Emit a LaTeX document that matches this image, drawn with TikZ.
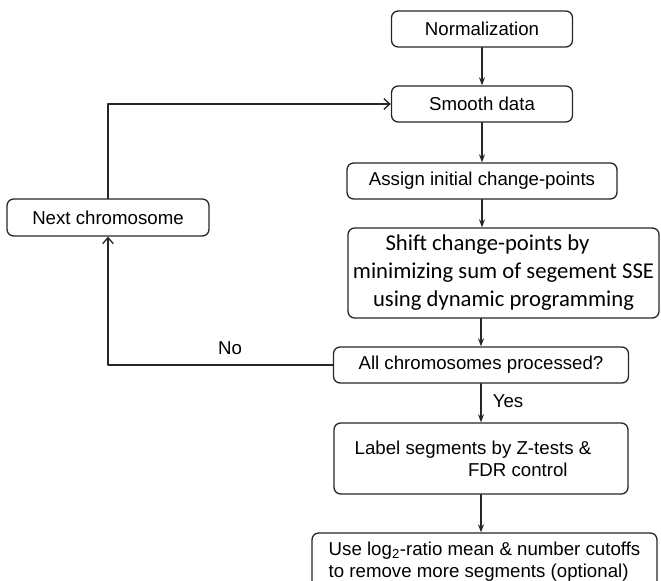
\documentclass[tikz,border=0pt]{standalone}
\usepackage{fontspec}
\setmainfont{Liberation Sans}
\newfontfamily\shiftfont{Carlito}
\usetikzlibrary{arrows.meta}

\tikzset{
  box/.style={draw=black!85, line width=1pt, rounded corners=5pt, inner sep=0pt, align=center},
  down/.style={draw=black!85, line width=1pt, -{Stealth[length=6pt,width=4.5pt]}},
  back/.style={draw=black!85, line width=1pt, -{Straight Barb[length=4.5pt,width=8pt]}},
}

\begin{document}
\begin{tikzpicture}[x=0.75pt,y=-0.75pt,font=\fontsize{14}{16.5}\selectfont,line join=round,line cap=round]
				\useasboundingbox (0,0) rectangle (661,581);
				\clip (0,0) rectangle (661,581);
				
				\node[box, minimum width=135.75pt, minimum height=27pt] (norm) at (482,29) {Normalization};
				\node[box, minimum width=135.75pt, minimum height=27pt] (smooth) at (482,104) {Smooth data};
				\node[box, minimum width=202.5pt, minimum height=27pt] (assign) at (482,181) {Assign initial change-points};
				\node[box, minimum width=151.5pt, minimum height=27.75pt] (next) at (108,217.5) {Next chromosome};
				\node[box, minimum width=233.25pt, minimum height=67.5pt, font=\shiftfont\fontsize{17}{21}\selectfont] (shift) at (503.5,273)
					{Shift change-points by\hspace*{24pt}\\minimizing sum of segement SSE\\using dynamic programming};
				\node[box, minimum width=221.25pt, minimum height=27pt] (all) at (481,365) {All chromosomes processed?};
				\node[box, minimum width=220.5pt, minimum height=53.25pt, align=left] (label) at (481,458.5)
					{Label segments by Z-tests \&\hspace*{12pt}\\\hspace*{85pt}FDR control};
				\node[box, minimum width=258.75pt, minimum height=42.75pt, align=left] (use) at (484.5,561.5)
					{Use log\textsubscript{2}-ratio mean \& number cutoffs\\to remove more segments (optional)};
				
				\draw[down] (norm.south) -- (norm.south |- smooth.north);
				\draw[down] (smooth.south) -- (smooth.south |- assign.north);
				\draw[down] (assign.south) -- (assign.south |- shift.north);
				\draw[down] (shift.south -| all) -- (all.north);
				\draw[down] (all.south) -- (all.south |- label.north);
				\draw[down] (label.south) -- (label.south |- use.north);
				
				\draw[back] (all.west) -| (next.south);
				\draw[back] (next.north) |- (smooth.west);
				
				\node (no) at (230,348) {No};
				\node (yes) at (508,401) {Yes};
			\end{tikzpicture}
\end{document}
